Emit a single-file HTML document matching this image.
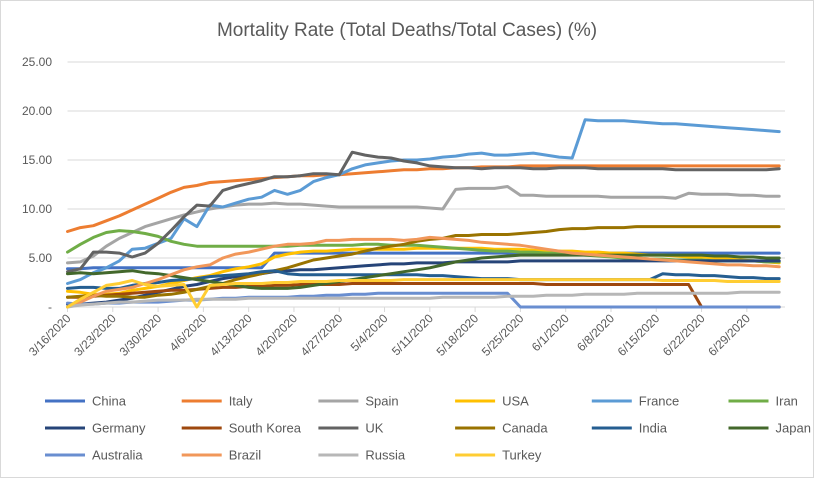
<!DOCTYPE html>
<html><head><meta charset="utf-8"><style>
html,body{margin:0;padding:0;background:#fff;}
#wrap{position:relative;width:814px;height:478px;overflow:hidden;}
svg text{font-family:"Liberation Sans",Arial,sans-serif;fill:#595959;}
</style></head><body>
<div id="wrap">
<svg id="chart" width="814" height="478">
<rect x="0.5" y="0.5" width="813" height="477" fill="#fff" stroke="#d9d9d9"/>
<text x="407" y="36" text-anchor="middle" font-size="19">Mortality Rate (Total Deaths/Total Cases) (%)</text>
<g id="grid"></g><g id="xaxis"></g><g id="yaxis"></g><g id="series"></g><g id="legend"></g>
</svg>
</div>
<script>
const seriesNames = ["China","Italy","Spain","USA","France","Iran","Germany","South Korea","UK","Canada","India","Japan","Australia","Brazil","Russia","Turkey"];
const seriesColors = ["#4472C4","#ED7D31","#A5A5A5","#FFC000","#5B9BD5","#70AD47","#264478","#9E480E","#636363","#997300","#255E91","#43682B","#698ED0","#F1975A","#B7B7B7","#FFCD33"];
const dayIndex = [0,2,4,6,8,10,12,14,16,18,20,22,24,26,28,30,32,34,36,38,40,42,44,46,48,50,52,54,56,58,60,62,64,66,68,70,72,74,76,78,80,82,84,86,88,90,92,94,96,98,100,102,104,106,108,110];
const xTickLabels = ["3/16/2020","3/23/2020","3/30/2020","4/6/2020","4/13/2020","4/20/2020","4/27/2020","5/4/2020","5/11/2020","5/18/2020","5/25/2020","6/1/2020","6/8/2020","6/15/2020","6/22/2020","6/29/2020"];
const yTicks = [0,5,10,15,20,25];
const yTickLabels = ["-","5.00","10.00","15.00","20.00","25.00"];
const china = [3.9,3.9,4.0,4.0,4.0,4.0,4.0,4.0,4.0,4.0,4.0,4.0,4.0,4.0,4.0,4.0,5.5,5.5,5.5,5.5,5.5,5.5,5.5,5.5,5.5,5.5,5.5,5.5,5.5,5.5,5.5,5.5,5.5,5.5,5.5,5.5,5.5,5.5,5.5,5.5,5.5,5.5,5.5,5.5,5.5,5.5,5.5,5.5,5.5,5.5,5.5,5.5,5.5,5.5,5.5,5.5];
const italy = [7.7,8.1,8.3,8.8,9.3,9.9,10.5,11.1,11.7,12.2,12.4,12.7,12.8,12.9,13.0,13.1,13.2,13.3,13.4,13.4,13.5,13.5,13.6,13.7,13.8,13.9,14.0,14.0,14.1,14.1,14.2,14.2,14.3,14.3,14.3,14.4,14.4,14.4,14.4,14.4,14.4,14.4,14.4,14.4,14.4,14.4,14.4,14.4,14.4,14.4,14.4,14.4,14.4,14.4,14.4,14.4];
const spain = [4.5,4.6,5.2,6.2,7.0,7.6,8.2,8.6,9.0,9.4,9.7,10.0,10.2,10.4,10.5,10.5,10.6,10.5,10.5,10.4,10.3,10.2,10.2,10.2,10.2,10.2,10.2,10.2,10.1,10.0,12.0,12.1,12.1,12.1,12.3,11.4,11.4,11.3,11.3,11.3,11.3,11.3,11.2,11.2,11.2,11.2,11.2,11.1,11.6,11.5,11.5,11.5,11.4,11.4,11.3,11.3];
const usa = [1.6,1.5,1.3,1.3,1.4,1.7,1.9,2.1,2.4,2.7,3.0,3.2,3.6,3.9,4.1,4.4,5.1,5.4,5.6,5.7,5.7,5.8,5.9,5.9,5.9,5.9,5.9,6.0,6.0,6.0,6.0,6.0,6.0,5.9,5.9,5.9,5.8,5.8,5.7,5.7,5.6,5.6,5.5,5.5,5.4,5.3,5.3,5.2,5.1,5.1,5.0,4.9,4.8,4.7,4.6,4.5];
const france = [2.4,2.8,3.5,4.0,4.7,5.9,6.0,6.5,7.0,9.0,8.2,10.4,10.2,10.6,11.0,11.2,11.9,11.5,11.9,12.8,13.2,13.5,14.1,14.5,14.7,14.9,15.0,15.0,15.1,15.3,15.4,15.6,15.7,15.5,15.5,15.6,15.7,15.5,15.3,15.2,19.1,19.0,19.0,19.0,18.9,18.8,18.7,18.7,18.6,18.5,18.4,18.3,18.2,18.1,18.0,17.9];
const iran = [5.6,6.4,7.1,7.6,7.8,7.7,7.5,7.2,6.7,6.4,6.2,6.2,6.2,6.2,6.2,6.2,6.2,6.2,6.3,6.3,6.3,6.3,6.3,6.4,6.4,6.3,6.3,6.3,6.2,6.1,6.0,5.9,5.8,5.7,5.7,5.6,5.6,5.5,5.5,5.4,5.3,5.2,5.1,5.0,5.0,4.9,4.9,4.8,4.8,4.8,4.7,4.7,4.7,4.7,4.6,4.6];
const germany = [0.3,0.3,0.4,0.5,0.7,0.9,1.2,1.5,1.8,2.1,2.3,2.6,2.9,3.1,3.2,3.4,3.6,3.7,3.8,3.8,3.9,4.0,4.1,4.2,4.3,4.4,4.4,4.5,4.5,4.5,4.6,4.6,4.6,4.6,4.6,4.7,4.7,4.7,4.7,4.7,4.7,4.7,4.7,4.7,4.7,4.7,4.7,4.7,4.7,4.7,4.7,4.7,4.7,4.7,4.7,4.7];
const southKorea = [1.0,1.0,1.1,1.2,1.3,1.4,1.5,1.6,1.7,1.7,1.8,1.9,2.0,2.0,2.1,2.1,2.2,2.2,2.3,2.3,2.3,2.3,2.4,2.4,2.4,2.4,2.4,2.4,2.4,2.4,2.4,2.4,2.4,2.4,2.4,2.4,2.4,2.3,2.3,2.3,2.3,2.3,2.3,2.3,2.3,2.3,2.3,2.3,2.3,0,0,0,0,0,0,0];
const uk = [3.6,3.9,5.6,5.6,5.5,5.1,5.5,6.5,7.8,9.2,10.4,10.3,11.9,12.3,12.6,12.9,13.3,13.3,13.4,13.6,13.6,13.5,15.8,15.5,15.3,15.2,14.9,14.7,14.4,14.3,14.2,14.2,14.1,14.2,14.2,14.2,14.1,14.1,14.2,14.2,14.2,14.1,14.1,14.1,14.1,14.1,14.1,14.0,14.0,14.0,14.0,14.0,14.0,14.0,14.0,14.1];
const canada = [1.0,1.1,1.2,1.1,1.1,1.0,1.0,1.2,1.3,1.5,1.8,2.1,2.4,2.8,3.1,3.4,3.7,4.0,4.4,4.8,5.0,5.2,5.4,5.7,6.0,6.2,6.4,6.7,6.9,7.0,7.3,7.3,7.4,7.4,7.4,7.5,7.6,7.7,7.9,8.0,8.0,8.1,8.1,8.1,8.2,8.2,8.2,8.2,8.2,8.2,8.2,8.2,8.2,8.2,8.2,8.2];
const india = [1.9,2.0,2.0,1.9,1.9,2.2,2.4,2.5,2.7,2.8,2.9,3.1,3.2,3.3,3.4,3.6,3.7,3.4,3.3,3.3,3.3,3.3,3.3,3.3,3.3,3.3,3.3,3.3,3.2,3.2,3.1,3.0,2.9,2.9,2.9,2.8,2.8,2.8,2.8,2.8,2.8,2.8,2.8,2.8,2.8,2.8,3.4,3.3,3.3,3.2,3.2,3.1,3.0,3.0,2.9,2.9];
const japan = [3.4,3.5,3.4,3.5,3.6,3.7,3.5,3.4,3.2,3.0,2.8,2.6,2.4,2.2,2.0,1.9,1.9,1.9,2.0,2.2,2.4,2.6,2.8,3.0,3.2,3.4,3.6,3.8,4.0,4.3,4.6,4.8,5.0,5.1,5.2,5.3,5.3,5.3,5.3,5.3,5.3,5.3,5.3,5.3,5.3,5.3,5.3,5.3,5.3,5.3,5.2,5.2,5.1,5.1,5.0,5.0];
const australia = [0.4,0.3,0.3,0.4,0.4,0.5,0.5,0.5,0.6,0.7,0.7,0.8,0.9,0.9,1.0,1.0,1.0,1.0,1.1,1.1,1.2,1.2,1.3,1.3,1.4,1.4,1.4,1.4,1.4,1.4,1.4,1.4,1.4,1.4,1.4,0,0,0,0,0,0,0,0,0,0,0,0,0,0,0,0,0,0,0,0,0];
const brazil = [0.0,0.5,1.1,1.6,1.8,2.0,2.4,2.8,3.3,3.8,4.1,4.3,5.0,5.4,5.6,5.9,6.2,6.4,6.4,6.5,6.8,6.8,6.9,6.9,6.9,6.9,6.8,6.9,7.1,7.0,6.9,6.8,6.6,6.5,6.4,6.3,6.1,5.9,5.7,5.5,5.4,5.3,5.2,5.1,5.0,4.9,4.8,4.7,4.6,4.5,4.4,4.3,4.3,4.2,4.2,4.1];
const russia = [0.0,0.2,0.3,0.4,0.5,0.5,0.6,0.7,0.7,0.7,0.8,0.8,0.8,0.8,0.9,0.9,0.9,0.9,0.9,0.9,0.9,0.9,0.9,0.9,0.9,0.9,0.9,0.9,0.9,1.0,1.0,1.0,1.0,1.0,1.1,1.1,1.1,1.2,1.2,1.2,1.3,1.3,1.3,1.3,1.4,1.4,1.4,1.4,1.4,1.4,1.4,1.4,1.5,1.5,1.5,1.5];
const turkey = [0.0,0.8,1.5,2.2,2.4,2.7,2.3,2.1,2.2,2.3,0.0,2.2,2.3,2.4,2.4,2.4,2.5,2.5,2.6,2.6,2.6,2.7,2.7,2.7,2.7,2.7,2.8,2.8,2.8,2.8,2.8,2.8,2.8,2.8,2.8,2.8,2.8,2.8,2.8,2.8,2.8,2.8,2.8,2.8,2.8,2.8,2.7,2.7,2.7,2.7,2.7,2.6,2.6,2.6,2.6,2.6];
const allSeries = [china,italy,spain,usa,france,iran,germany,southKorea,uk,canada,india,japan,australia,brazil,russia,turkey];

const NS = "http://www.w3.org/2000/svg";
const X0 = 67.5, DAYPX = 6.47, Y0 = 307, YPX = 9.8;
function xScale(d){ return X0 + d * DAYPX; }
function yScale(v){ return Y0 - v * YPX; }
function mk(tag, attrs, parent){ const e = document.createElementNS(NS, tag); for (const k in attrs) e.setAttribute(k, attrs[k]); parent.appendChild(e); return e; }

const grid = document.getElementById('grid');
const yaxis = document.getElementById('yaxis');
yTicks.forEach((t, i) => {
  const y = yScale(t);
  if (t > 0) {
    const g = mk('line', {x1: 67.5, x2: 785, y1: y, y2: y, stroke: '#d9d9d9', 'stroke-width': 1}, grid);
    
    
  }
  const lb = mk('text', {x: 52, y: y + 4, 'text-anchor': 'end', 'font-size': 12}, yaxis);
  lb.textContent = yTickLabels[i];
  
  
});

const xaxis = document.getElementById('xaxis');
const ax = mk('line', {x1: 67.5, x2: 785, y1: Y0, y2: Y0, stroke: '#d9d9d9', 'stroke-width': 1}, xaxis);


xTickLabels.forEach((lab, i) => {
  const x = xScale(i * 7);
  const tk = mk('line', {x1: x, x2: x, y1: Y0, y2: Y0 + 5, stroke: '#d9d9d9', 'stroke-width': 1}, xaxis);
  
  
  const t = mk('text', {x: x + 4, y: Y0 + 12, 'text-anchor': 'end', 'font-size': 12, transform: 'rotate(-45 ' + (x + 4) + ' ' + (Y0 + 12) + ')'}, xaxis);
  t.textContent = lab;
  
  
});

const sg = document.getElementById('series');
allSeries.forEach((vals, s) => {
  const pts = vals.map((v, i) => xScale(dayIndex[i]).toFixed(1) + ',' + yScale(v).toFixed(1)).join(' ');
  const pl = mk('polyline', {points: pts, fill: 'none', stroke: seriesColors[s], 'stroke-width': 3, 'stroke-linejoin': 'round', 'stroke-linecap': 'round'}, sg);
  
  
});

const lg = document.getElementById('legend');
seriesNames.forEach((n, i) => {
  const col = i % 6, row = Math.floor(i / 6);
  const lx = 45 + col * 136.7, ly = 401 + row * 27;
  const g = mk('g', {}, lg);
  
  
  mk('line', {x1: lx, x2: lx + 40, y1: ly, y2: ly, stroke: seriesColors[i], 'stroke-width': 3}, g);
  const t = mk('text', {x: lx + 47, y: ly + 4.5, 'font-size': 13}, g);
  t.textContent = n;
});
</script>
</body></html>
